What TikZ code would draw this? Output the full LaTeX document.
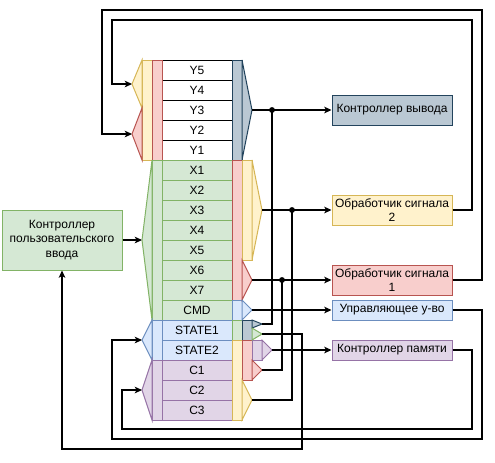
\documentclass[tikz,border=0pt]{standalone}
\usepackage{fontspec}
\setmainfont{Liberation Sans}
\usetikzlibrary{arrows.meta}
\definecolor{yellow area}{HTML}{FFF2CC}
\definecolor{yellow edge}{HTML}{D6B656}
\definecolor{red area}{HTML}{F8CECC}
\definecolor{red edge}{HTML}{B85450}
\definecolor{green area}{HTML}{D5E8D4}
\definecolor{green edge}{HTML}{82B366}
\definecolor{blue area}{HTML}{DAE8FC}
\definecolor{blue edge}{HTML}{6C8EBF}
\definecolor{purple area}{HTML}{E1D5E7}
\definecolor{purple edge}{HTML}{9673A6}
\definecolor{slate area}{HTML}{BAC8D3}
\definecolor{slate edge}{HTML}{23445D}
\def\registers{Y5/whitish, Y4/whitish, Y3/whitish, Y2/whitish, Y1/whitish, X1/greenish, X2/greenish, X3/greenish, X4/greenish, X5/greenish, X6/greenish, X7/greenish, CMD/greenish, STATE1/bluish, STATE2/bluish, C1/purplish, C2/purplish, C3/purplish}
\def\bars{yellowish/142/60/160, reddish/152/60/160, greenish/152/160/320, bluish/152/320/360, purplish/152/360/420, slate/232/60/160, reddish/232/160/300, yellowish/242/160/260, bluish/232/300/320, greenish/232/320/340, slate/242/320/340, yellowish/232/340/420, reddish/242/340/380, purplish/252/340/360}
\def\tips{yellowish/142/60/108/132/yin, reddish/142/108/160/132/rin, greenish/152/160/320/142/xin, bluish/152/320/360/142/sin, purplish/152/360/420/142/cin, slate/242/60/160/252/yout, yellowish/252/160/260/262/xtwo, reddish/242/260/300/252/xone, bluish/242/300/320/252/cmdout, slate/252/320/328/262/stup, greenish/252/328/340/262/stdown, purplish/262/340/360/272/stout, reddish/252/360/380/262/cone, yellowish/242/380/420/252/cthree}
\tikzset{
  whitish/.style={fill=white, draw=black},
  yellowish/.style={fill=yellow area, draw=yellow edge},
  reddish/.style={fill=red area, draw=red edge},
  greenish/.style={fill=green area, draw=green edge},
  bluish/.style={fill=blue area, draw=blue edge},
  purplish/.style={fill=purple area, draw=purple edge},
  slate/.style={fill=slate area, draw=slate edge}
  }
\tikzstyle{cell}=[line width=0.75pt, minimum width=52.5pt, minimum height=15pt, inner sep=0pt]
\tikzstyle{bus}=[line width=0.75pt, line join=miter]
\tikzstyle{unit}=[draw, line width=0.75pt, minimum width=90pt, minimum height=22.5pt, inner sep=1pt, align=center]
\tikzstyle{wire}=[draw, line width=0.8pt]
\tikzstyle{link}=[wire, -{Stealth[length=5.5pt, width=5pt, inset=1.5pt]}]

\begin{document}
\begin{tikzpicture}[x=0.75pt, y=-0.75pt, font=\fontsize{9}{10.8}\selectfont]

  % Page size
  \useasboundingbox (0,0) rectangle (495,462);

  % The devices round the register
  \node[unit, slate] (output) at (392,110) {Контроллер вывода};
  \node[unit, yellowish] (sigtwo) at (392,210) {Обработчик сигнала\\2};
  \node[unit, reddish] (sigone) at (392,280) {Обработчик сигнала\\1};
  \node[unit, bluish, minimum height=15pt] (device) at (392,310) {Управляющее у-во};
  \node[unit, purplish, minimum height=15pt] (memory) at (392,350) {Контроллер памяти};
  \node[unit, greenish, minimum height=45pt] (input) at (62,240) {Контроллер\\пользовательского\\ввода};

  % The register cells
  \foreach \name/\kind [count=\i] in \registers
    \node[cell, \kind] (\name) at (197, 50+20*\i) {\name};

  % The buses beside them
  \foreach \kind/\x/\ya/\yb in \bars
    \path[bus, \kind] (\x,\ya) rectangle (\x+10,\yb);
  \foreach \kind/\xa/\ya/\yb/\xb/\name in \tips
    \path[bus, \kind] (\xa,\ya) -- (\xb,{(\ya+\yb)/2}) coordinate (\name) -- (\xa,\yb) -- cycle;

  % Corners and joints of the wires
  \coordinate (jout) at (272,110);
  \coordinate (jtwo) at (292,210);
  \coordinate (jone) at (282,280);
  \coordinate (backc) at (302,449);
  \coordinate (backa) at (482,439);
  \coordinate (upa) at (112,340);
  \coordinate (backb) at (472,429);
  \coordinate (upb) at (122,390);
  \coordinate (topb) at (472,20);
  \coordinate (downb) at (112,84);
  \coordinate (topa) at (482,10);
  \coordinate (downa) at (102,134);

  % The wires
  \path[link] (yout) -- (output.west);
  \path[link] (xtwo) -- (sigtwo.west);
  \path[link] (xone) -- (sigone.west);
  \path[link] (cmdout) -- (device.west);
  \path[link] (stout) -- (memory.west);
  \path[link] (input.east) -- (xin);
  \path[wire] (jout) |- (stup);
  \path[wire] (jtwo) |- (cthree);
  \path[wire] (jone) |- (cone);
  \path[link] (stdown) -| (backc) -| (input.south);
  \path[link] (device.east) -| (backa) -| (upa) -- (sin);
  \path[link] (memory.east) -| (backb) -| (upb) -- (cin);
  \path[link] (sigtwo.east) -| (topb) -| (downb) -- (yin);
  \path[link] (sigone.east) -| (topa) -| (downa) -- (rin);
  \foreach \j in {jout, jtwo, jone}
    \fill (\j) circle[radius=2.2pt];
\end{tikzpicture}
\end{document}
